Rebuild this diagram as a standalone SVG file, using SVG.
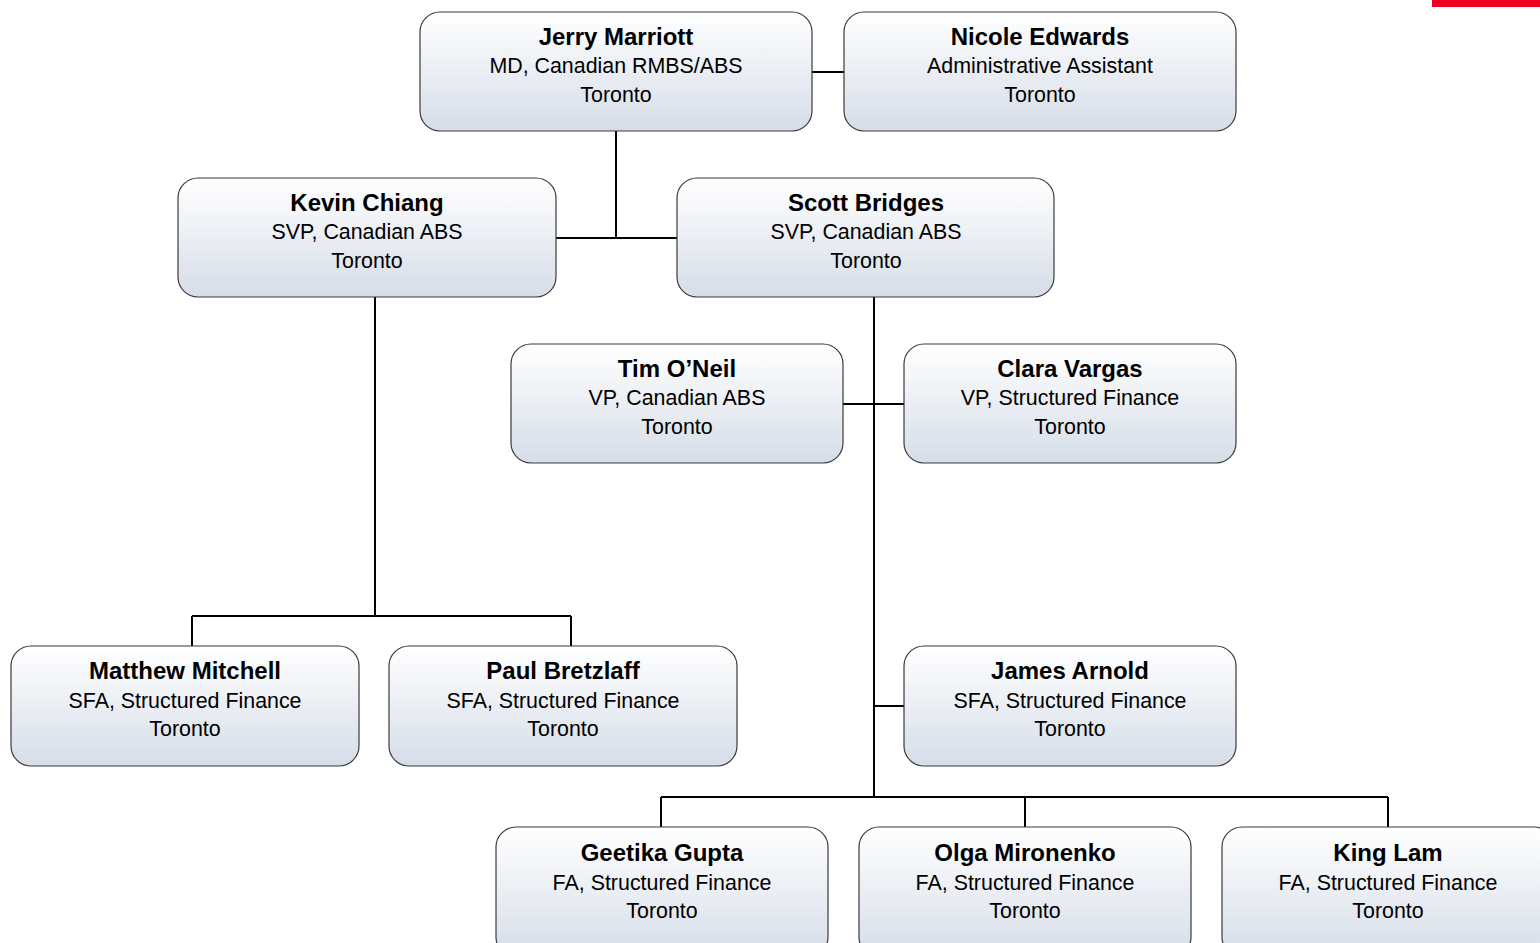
<svg xmlns="http://www.w3.org/2000/svg" width="1540" height="943" viewBox="0 0 1540 943">
<defs>
<linearGradient id="g" x1="0" y1="0" x2="0" y2="1">
<stop offset="0" stop-color="#ffffff"/>
<stop offset="1" stop-color="#d6dde8"/>
</linearGradient>
<style>
.box{fill:url(#g);stroke:#3a3a3a;stroke-width:1.2}
.n{font-family:"Liberation Sans",Arial,sans-serif;font-size:24px;font-weight:bold;text-anchor:middle;fill:#000}
.t{font-family:"Liberation Sans",Arial,sans-serif;font-size:21.4px;text-anchor:middle;fill:#000}
.c{stroke:#000;stroke-width:2;fill:none}
</style>
</defs>
<rect width="1540" height="943" fill="#fff"/>
<rect x="1432" y="0" width="108" height="7" fill="#f00024"/>
<g id="connectors" class="c">
<path d="M812 72H844"/>
<path d="M616 131V238M556 238H677"/>
<path d="M375 297V616M192 616H571M192 616V646M571 616V646"/>
<path d="M874 297V797M843 404H904M874 706H904"/>
<path d="M661 797H1388M661 797V827M1025 797V827M1388 797V827"/>
</g>
<g id="jerry"><rect class="box" x="420" y="12" width="392" height="119" rx="20"/><text class="n" x="616" y="45">Jerry Marriott</text><text class="t" x="616" y="73">MD, Canadian RMBS/ABS</text><text class="t" x="616" y="102">Toronto</text></g>
<g id="nicole"><rect class="box" x="844" y="12" width="392" height="119" rx="20"/><text class="n" x="1040" y="45">Nicole Edwards</text><text class="t" x="1040" y="73">Administrative Assistant</text><text class="t" x="1040" y="102">Toronto</text></g>
<g id="kevin"><rect class="box" x="178" y="178" width="378" height="119" rx="20"/><text class="n" x="367" y="211">Kevin Chiang</text><text class="t" x="367" y="239">SVP, Canadian ABS</text><text class="t" x="367" y="268">Toronto</text></g>
<g id="scott"><rect class="box" x="677" y="178" width="377" height="119" rx="20"/><text class="n" x="866" y="211">Scott Bridges</text><text class="t" x="866" y="239">SVP, Canadian ABS</text><text class="t" x="866" y="268">Toronto</text></g>
<g id="tim"><rect class="box" x="511" y="344" width="332" height="119" rx="20"/><text class="n" x="677" y="377">Tim O’Neil</text><text class="t" x="677" y="405">VP, Canadian ABS</text><text class="t" x="677" y="434">Toronto</text></g>
<g id="clara"><rect class="box" x="904" y="344" width="332" height="119" rx="20"/><text class="n" x="1070" y="377">Clara Vargas</text><text class="t" x="1070" y="405">VP, Structured Finance</text><text class="t" x="1070" y="434">Toronto</text></g>
<g id="matthew"><rect class="box" x="11" y="646" width="348" height="120" rx="20"/><text class="n" x="185" y="679">Matthew Mitchell</text><text class="t" x="185" y="708">SFA, Structured Finance</text><text class="t" x="185" y="736">Toronto</text></g>
<g id="paul"><rect class="box" x="389" y="646" width="348" height="120" rx="20"/><text class="n" x="563" y="679">Paul Bretzlaff</text><text class="t" x="563" y="708">SFA, Structured Finance</text><text class="t" x="563" y="736">Toronto</text></g>
<g id="james"><rect class="box" x="904" y="646" width="332" height="120" rx="20"/><text class="n" x="1070" y="679">James Arnold</text><text class="t" x="1070" y="708">SFA, Structured Finance</text><text class="t" x="1070" y="736">Toronto</text></g>
<g id="geetika"><rect class="box" x="496" y="827" width="332" height="130" rx="20"/><text class="n" x="662" y="861">Geetika Gupta</text><text class="t" x="662" y="890">FA, Structured Finance</text><text class="t" x="662" y="918">Toronto</text></g>
<g id="olga"><rect class="box" x="859" y="827" width="332" height="130" rx="20"/><text class="n" x="1025" y="861">Olga Mironenko</text><text class="t" x="1025" y="890">FA, Structured Finance</text><text class="t" x="1025" y="918">Toronto</text></g>
<g id="king"><rect class="box" x="1222" y="827" width="332" height="130" rx="20"/><text class="n" x="1388" y="861">King Lam</text><text class="t" x="1388" y="890">FA, Structured Finance</text><text class="t" x="1388" y="918">Toronto</text></g>
</svg>
